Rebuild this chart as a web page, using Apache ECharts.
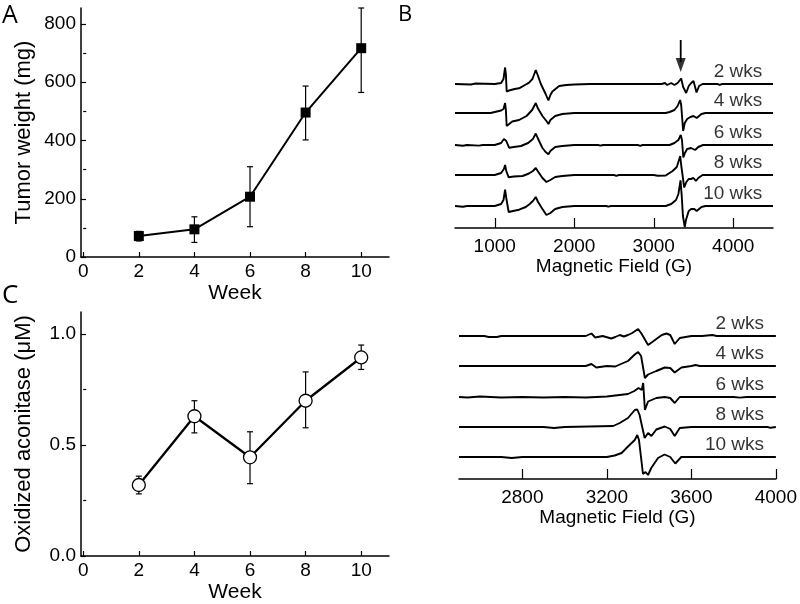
<!DOCTYPE html>
<html>
<head>
<meta charset="utf-8">
<script src="https://cdn.jsdelivr.net/npm/echarts@6/dist/echarts.min.js"></script>
<style>html,body{margin:0;padding:0;background:#fff}#c{width:800px;height:604px}</style>
</head>
<body>
<div id="c"></div>
<script>
// ---------- DATA ----------
const weeks = [2, 4, 6, 8, 10];
const weekTicks = [0, 2, 4, 6, 8, 10];
// Panel A
const tumorWeight = [72, 95, 207, 496, 717];
const tumorLow = [55, 50, 104, 402, 565];
const tumorHigh = [88, 138, 310, 587, 855];
const tumorTicks = [0, 200, 400, 600, 800];
const tumorMinorTicks = [100, 300, 500, 700];
// Panel C
const aconitase = [0.32, 0.63, 0.445, 0.70, 0.895];
const aconLow = [0.28, 0.555, 0.326, 0.578, 0.841];
const aconHigh = [0.36, 0.70, 0.56, 0.83, 0.951];
const aconTicks = [0, 0.5, 1.0];
const aconMinorTicks = [0.25, 0.75];
// Panel B spectra (field G, intensity)
const traceLabels = ['2 wks', '4 wks', '6 wks', '8 wks', '10 wks'];
const fieldTicksB = [1000, 2000, 3000, 4000];
const offsetsB = [144, 115, 83, 53, 22];
const arrowField = 3339;
const arrowTop = 188;
const arrowTip = 156;
const specB_2 = [[500,0],[700,-0.5],[760,0.5],[1000,0],[1080,1],[1110,5],[1130,16.5],[1140,10],[1150,-7.5],[1180,-6.5],[1250,-5],[1306,-4.3],[1380,-1],[1432,1.3],[1474,5],[1516,14],[1540,9],[1580,0],[1640,-10],[1675,-16.5],[1700,-11],[1725,-7.5],[1810,-2],[1900,-1],[2000,-0.5],[2200,0],[2600,0],[2620,-0.8],[2650,0],[3100,0],[3140,1],[3170,-1],[3220,1],[3260,-1],[3300,1],[3345,5.5],[3370,-3],[3408,-9],[3440,-2],[3471,1],[3500,3],[3520,-3],[3538,-8.5],[3570,-2],[3614,0],[3800,0],[3830,-0.8],[3860,0],[4500,0]];
const specB_4 = [[500,0],[950,0],[1000,1],[1080,2.5],[1110,4],[1130,10],[1140,3],[1150,-13],[1170,-11],[1220,-8.5],[1306,-7],[1400,-3],[1470,3],[1516,10],[1540,5],[1600,-3],[1650,-8],[1675,-11],[1700,-7],[1760,-3],[1850,-1],[2000,0],[3150,0],[3200,1],[3260,3],[3300,7],[3332,13],[3345,8],[3370,-18],[3390,-10],[3420,-6],[3460,-4],[3500,-3],[3540,-5],[3600,-1],[3650,0],[4500,0]];
const specB_6 = [[500,0],[600,-0.8],[650,0],[800,-0.6],[850,0],[1000,0],[1080,2],[1115,6],[1130,8],[1145,4],[1180,-2.7],[1240,-2],[1330,-1],[1420,2],[1480,6],[1516,11.5],[1540,7],[1600,-3],[1640,-7],[1675,-9.3],[1700,-6],[1760,-2],[1850,-1],[2000,0],[2300,0],[2330,-0.7],[2360,0],[2800,0],[2830,-0.8],[2860,0],[3200,0],[3260,2],[3310,5],[3340,10],[3355,5],[3372,-12.5],[3392,-8],[3420,-4],[3470,-3],[3520,-5],[3560,-2],[3620,0],[4500,0]];
const specB_8 = [[500,0],[1000,0],[1080,2],[1115,6],[1130,10],[1145,4],[1175,-2.3],[1240,-1.5],[1350,-1],[1430,1.5],[1480,4],[1516,7],[1540,4],[1600,-3],[1650,-7],[1675,-8],[1700,-5],[1760,-2],[1850,-1],[2000,0],[2500,0],[2530,-0.8],[2560,0],[3000,0],[3050,-0.8],[3150,-0.5],[3237,4],[3290,8],[3333,19],[3345,10],[3383,-12.5],[3410,-7],[3440,-4],[3467,-4],[3500,-3],[3530,-6],[3560,-3],[3614,0],[4500,0]];
const specB_10 = [[500,0],[600,-0.7],[650,0],[1000,0],[1080,2],[1110,6],[1130,16.3],[1145,8],[1175,-6],[1230,-5],[1306,-3.7],[1390,-1],[1440,2],[1480,5],[1516,9],[1545,4],[1600,-3],[1650,-9],[1675,-11],[1700,-7],[1760,-3],[1850,-1],[2000,0],[2400,0],[2430,-0.7],[2460,0],[3150,0],[3220,2],[3280,6],[3310,12],[3337,25.7],[3352,10],[3367,-10],[3390,-21],[3405,-14],[3440,-5],[3470,-3],[3510,-3],[3540,-5],[3600,-1],[3650,0],[4500,0]];
// Panel D spectra
const fieldTicksD = [2800, 3200, 3600, 4000];
const offsetsD = [143, 113, 82, 52, 22];
const specD_2 = [[2500,0],[2620,0],[2640,-1],[2680,-1],[2700,0],[3100,0],[3127,2.5],[3145,-1.5],[3180,0],[3221,-2.5],[3240,-1],[3261,1],[3280,-0.5],[3300,1],[3320,3],[3348,7],[3365,2],[3395,-9],[3415,-6],[3434,-3],[3460,1],[3482,2.5],[3500,1],[3521,-8],[3545,-2],[3600,0],[3650,0],[3700,1],[3720,0],[4000,0]];
const specD_4 = [[2500,0],[3100,0],[3127,2],[3150,-1.5],[3200,0],[3240,-0.5],[3261,1.5],[3300,5],[3332,11.5],[3348,14],[3362,10],[3380,-12],[3395,-8.5],[3434,-5],[3474,-1.5],[3500,-2],[3521,-6.5],[3553,-1.5],[3600,0],[3620,1],[3640,0],[4000,0]];
const specD_6 = [[2500,0],[2540,-0.5],[2600,0.5],[2700,-0.5],[2800,0],[2900,-0.5],[3000,0],[3100,-0.5],[3200,0.5],[3260,2],[3300,3],[3330,6],[3350,9],[3365,7],[3372,14],[3380,-13],[3395,-4.5],[3434,-1],[3474,0],[3500,-1],[3521,-6],[3545,0],[3800,0],[3830,-0.6],[3860,0],[4000,0]];
const specD_8 = [[2500,0],[2900,0],[2950,-1],[3000,0],[3230,1],[3261,4],[3300,9],[3332,17],[3344,17.5],[3355,12],[3363,4],[3379,-11],[3395,-6],[3411,-9],[3434,-2.5],[3474,0.5],[3500,-2],[3521,-9],[3545,-1],[3600,0],[3960,0],[3975,-0.8],[4000,0]];
const specD_10 = [[2500,0],[2700,0],[2750,-1],[2800,0],[3200,0],[3237,1.5],[3270,4],[3300,10.5],[3332,17],[3344,22],[3352,17],[3371,-17],[3383,-15],[3395,-18],[3410,-11],[3442,-1],[3473,2.5],[3500,0],[3524,-6.5],[3552,0],[4000,0]];
const labelFieldB = 4365;
const labelFieldD = 3944;

// ---------- CHART ----------
const FONT = '"Liberation Sans", Arial, sans-serif';
const BLACK = '#000';
const chart = echarts.init(document.getElementById('c'), null, {renderer: 'canvas'});

function errRender(params, api) {
  const x = api.value(0), lo = api.value(1), hi = api.value(2);
  const pt = api.coord([x, hi]), pb = api.coord([x, lo]);
  const w = 3;
  const st = {stroke: BLACK, lineWidth: 1.2};
  return {type: 'group', children: [
    {type: 'line', shape: {x1: pt[0], y1: pt[1], x2: pb[0], y2: pb[1]}, style: st},
    {type: 'line', shape: {x1: pt[0]-w, y1: pt[1], x2: pt[0]+w, y2: pt[1]}, style: st},
    {type: 'line', shape: {x1: pb[0]-w, y1: pb[1], x2: pb[0]+w, y2: pb[1]}, style: st}
  ]};
}

const axisLineStyle = {lineStyle: {color: BLACK, width: 1.5}};
function weekAxis(gi) {
  return {
    type: 'value', gridIndex: gi, min: -0.08, max: 11,
    axisLine: {show: true, onZero: false, ...axisLineStyle},
    axisTick: {show: true, inside: true, length: 5, customValues: weekTicks, lineStyle: {color: BLACK, width: 1.2}},
    axisLabel: {customValues: weekTicks, color: BLACK, fontSize: 19, fontFamily: FONT, margin: 5},
    splitLine: {show: false},
    name: 'Week', nameLocation: 'middle', nameGap: 26,
    nameTextStyle: {color: BLACK, fontSize: 21, fontFamily: FONT}
  };
}
function fieldAxis(gi, mn, mx, ticks) {
  return {
    type: 'value', gridIndex: gi, min: mn, max: mx,
    axisLine: {show: true, onZero: false, ...axisLineStyle},
    axisTick: {show: true, inside: true, length: 10, customValues: ticks, lineStyle: {color: BLACK, width: 1.2}},
    axisLabel: {customValues: ticks, color: BLACK, fontSize: 19, fontFamily: FONT, margin: 9,
      formatter: v => String(v)},
    splitLine: {show: false},
    name: 'Magnetic Field (G)', nameLocation: 'middle', nameGap: 28,
    nameTextStyle: {color: BLACK, fontSize: 19, fontFamily: FONT}
  };
}
function minorAxis(gi, mn, mx, ticks) {
  return {
    type: 'value', gridIndex: gi, min: mn, max: mx, position: 'left',
    axisLine: {show: false}, axisLabel: {show: false}, splitLine: {show: false},
    axisTick: {show: true, inside: true, length: 3, customValues: ticks, lineStyle: {color: BLACK, width: 1.2}}
  };
}

const traceStyle = {color: BLACK, width: 1.9};
const specsB = [specB_2, specB_4, specB_6, specB_8, specB_10];
const specsD = [specD_2, specD_4, specD_6, specD_8, specD_10];
const traceLabelStyle = {show: true, formatter: p => p.name, position: [0, 0], align: 'right', verticalAlign: 'middle',
  offset: [0, -12], color: BLACK, fontSize: 19, fontFamily: FONT, textBorderWidth: 0};

const series = [];
// Panel A
series.push({type: 'custom', xAxisIndex: 0, yAxisIndex: 0, renderItem: errRender,
  data: weeks.map((w, i) => [w, tumorLow[i], tumorHigh[i]]), z: 2, silent: true});
series.push({type: 'line', xAxisIndex: 0, yAxisIndex: 0, data: weeks.map((w, i) => [w, tumorWeight[i]]),
  symbol: 'rect', symbolSize: 10, itemStyle: {color: BLACK}, lineStyle: {color: BLACK, width: 2}, z: 3});
// Panel C
series.push({type: 'custom', xAxisIndex: 2, yAxisIndex: 3, renderItem: errRender,
  data: weeks.map((w, i) => [w, aconLow[i], aconHigh[i]]), z: 2, silent: true});
series.push({type: 'line', xAxisIndex: 2, yAxisIndex: 3, data: weeks.map((w, i) => [w, aconitase[i]]),
  symbol: 'circle', symbolSize: 13, showAllSymbol: true,
  itemStyle: {color: '#fff', borderColor: BLACK, borderWidth: 1.3},
  lineStyle: {color: BLACK, width: 2.3}, z: 3});
// Panel B traces
specsB.forEach((sp, k) => {
  series.push({type: 'line', xAxisIndex: 1, yAxisIndex: 2, showSymbol: false, symbol: 'none',
    data: sp.map(p => [p[0], p[1] + offsetsB[k]]), lineStyle: traceStyle, silent: true, clip: false});
});
// Arrow (shaft + head)
series.push({type: 'line', xAxisIndex: 1, yAxisIndex: 2, showSymbol: false, symbol: 'none', silent: true,
  data: [[arrowField, arrowTop], [arrowField, arrowTip + 10]], lineStyle: {color: BLACK, width: 1.8}});
series.push({type: 'scatter', xAxisIndex: 1, yAxisIndex: 2, silent: true,
  symbol: 'triangle', symbolSize: [10, 14], symbolRotate: 180, symbolOffset: [0, -7],
  itemStyle: {color: BLACK}, data: [[arrowField, arrowTip]]});
series.push({type: 'scatter', xAxisIndex: 1, yAxisIndex: 2, symbolSize: 0, silent: true,
  itemStyle: {color: BLACK},
  data: traceLabels.map((t, k) => ({value: [labelFieldB, offsetsB[k]], name: t})),
  label: traceLabelStyle});
// Panel D traces
specsD.forEach((sp, k) => {
  series.push({type: 'line', xAxisIndex: 3, yAxisIndex: 5, showSymbol: false, symbol: 'none',
    data: sp.map(p => [p[0], p[1] + offsetsD[k]]), lineStyle: traceStyle, silent: true, clip: false});
});
series.push({type: 'scatter', xAxisIndex: 3, yAxisIndex: 5, symbolSize: 0, silent: true,
  itemStyle: {color: BLACK},
  data: traceLabels.map((t, k) => ({value: [labelFieldD, offsetsD[k]], name: t})),
  label: traceLabelStyle});

const option = {
  animation: false,
  backgroundColor: '#fff',
  grid: [
    {left: 81, top: 8, width: 308, height: 249},
    {left: 455, top: 30, width: 318, height: 198},
    {left: 81, top: 312, width: 308, height: 248},
    {left: 459, top: 290, width: 319, height: 189}
  ],
  xAxis: [weekAxis(0), fieldAxis(1, 500, 4500, fieldTicksB), weekAxis(2), fieldAxis(3, 2500, 4000, fieldTicksD)],
  yAxis: [
    {type: 'value', gridIndex: 0, min: 0, max: 855,
      axisLine: {show: true, onZero: false, ...axisLineStyle},
      axisTick: {show: true, inside: true, length: 5, customValues: tumorTicks, lineStyle: {color: BLACK, width: 1.2}},
      axisLabel: {customValues: tumorTicks, color: BLACK, fontSize: 19, fontFamily: FONT, margin: 5},
      splitLine: {show: false},
      name: 'Tumor weight (mg)', nameLocation: 'middle', nameGap: 46,
      nameTextStyle: {color: BLACK, fontSize: 22, fontFamily: FONT}},
    minorAxis(0, 0, 855, tumorMinorTicks),
    {type: 'value', gridIndex: 1, min: 0, max: 198, show: false},
    {type: 'value', gridIndex: 2, min: 0, max: 1.1,
      axisLine: {show: true, onZero: false, ...axisLineStyle},
      axisTick: {show: true, inside: true, length: 5, customValues: aconTicks, lineStyle: {color: BLACK, width: 1.2}},
      axisLabel: {customValues: aconTicks, color: BLACK, fontSize: 19, fontFamily: FONT, margin: 5,
        formatter: v => v.toFixed(1)},
      splitLine: {show: false},
      name: 'Oxidized aconitase (μM)', nameLocation: 'middle', nameGap: 46,
      nameTextStyle: {color: BLACK, fontSize: 22, fontFamily: FONT}},
    minorAxis(2, 0, 1.1, aconMinorTicks),
    {type: 'value', gridIndex: 3, min: 0, max: 189, show: false}
  ],
  graphic: [
    {type: 'text', left: 2, top: 3, style: {text: 'A', fontSize: 25, fontFamily: '"Open Sans", sans-serif', fill: BLACK}},
    {type: 'text', left: 398, top: 4, style: {text: 'B', fontSize: 22, fontFamily: '"Open Sans", sans-serif', fill: BLACK}},
    {type: 'text', left: 2, top: 283, style: {text: 'C', fontSize: 26, fontFamily: '"Open Sans", sans-serif', fill: BLACK}}
  ],
  series: series
};
chart.setOption(option);
</script>
</body>
</html>
